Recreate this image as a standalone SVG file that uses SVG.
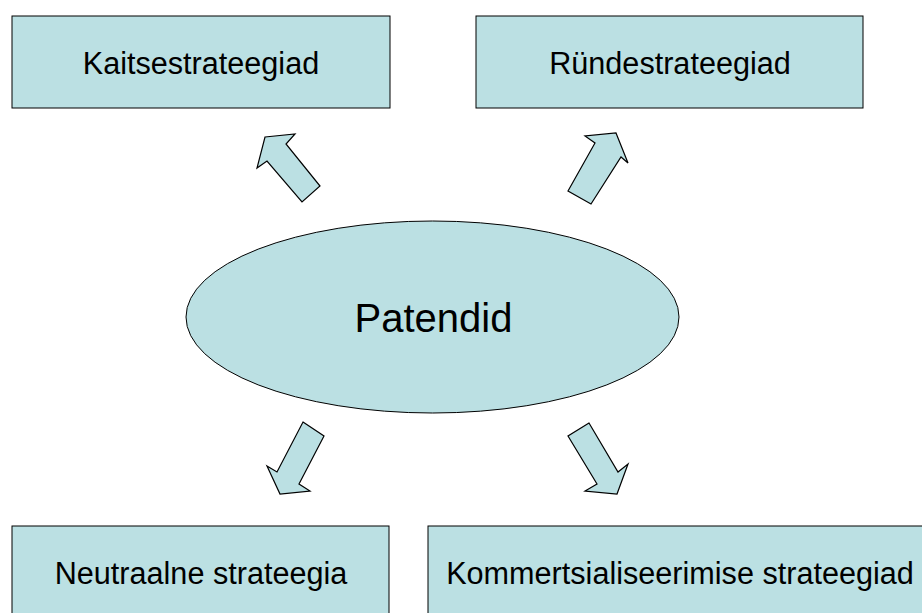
<svg xmlns="http://www.w3.org/2000/svg" width="922" height="613" viewBox="0 0 922 613">
<style>
.box{fill:#BBE0E3;stroke:#000;stroke-width:1}
.arr{fill:#BBE0E3;stroke:#000;stroke-width:1.2;stroke-linejoin:miter}
.t{font-family:"Liberation Sans",Arial,sans-serif;font-size:30.6px;fill:#000;text-anchor:middle}
.big{font-size:40px}
</style>
<rect width="922" height="613" fill="#fff"/>
<g id="kaitse"><rect class="box" x="12" y="16" width="378" height="92"/><text class="t" x="201" y="74">Kaitsestrateegiad</text></g>
<g id="rynde"><rect class="box" x="476" y="16" width="387" height="92"/><text class="t" x="670" y="74">Ründestrateegiad</text></g>
<g id="neutraalne"><rect class="box" x="12" y="526" width="377" height="100"/><text class="t" x="201" y="584">Neutraalne strateegia</text></g>
<g id="kommerts"><rect class="box" x="428" y="526" width="510" height="100"/><text class="t" x="680" y="584">Kommertsialiseerimise strateegiad</text></g>
<g id="patendid"><ellipse class="box" cx="432.5" cy="317" rx="246.5" ry="96"/><text class="t big" x="433.5" y="332">Patendid</text></g>
<g id="connectors">
<polygon class="arr" points="265,137 295,134 286,144 320,186 302,202 267,161 257,168"/>
<polygon class="arr" points="616,133 628,163 621,157 591,204 568,191 595,143 585,136"/>
<polygon class="arr" points="303,422 324,436 299,484 310,491 280,494 267,466 277,472"/>
<polygon class="arr" points="589,423 568,436 597,484 585,491 617,494 628,464 618,472"/>
</g>
</svg>
